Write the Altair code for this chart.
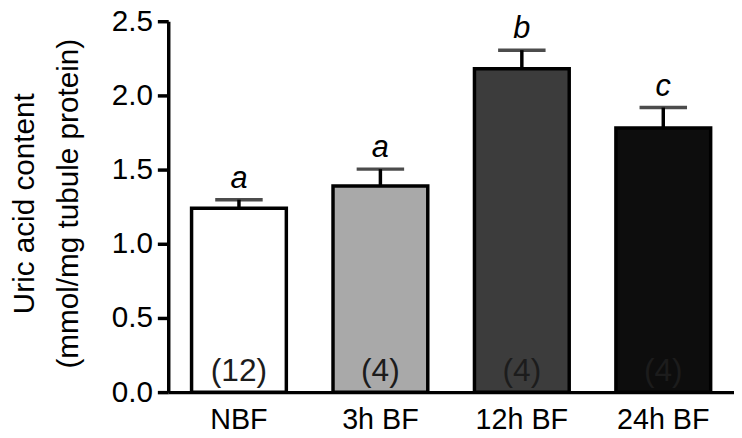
import altair as alt
import pandas as pd

groups = ["NBF", "3h BF", "12h BF", "24h BF"]
means = [1.24, 1.39, 2.18, 1.78]
sems = [0.057, 0.113, 0.125, 0.138]
letters = ["a", "a", "b", "c"]
counts = ["(12)", "(4)", "(4)", "(4)"]
fills = ["#ffffff", "#a9a9a9", "#3c3c3c", "#0d0d0d"]
y_ticks = [0.0, 0.5, 1.0, 1.5, 2.0, 2.5]

FONT = "Liberation Sans"

df = pd.DataFrame({
    "group": groups,
    "mean": means,
    "sem": sems,
    "top": [m + s for m, s in zip(means, sems)],
    "letter": letters,
    "n": counts,
})

x = alt.X("group:N", sort=groups,
          scale=alt.Scale(paddingInner=0.33, paddingOuter=0.165),
          axis=alt.Axis(title=None, labelAngle=0, ticks=False, labelPadding=14,
                        labelFontSize=29, labelFont=FONT, labelColor="black",
                        domainColor="black", domainWidth=3.5))
y_scale = alt.Scale(domain=[0, 2.5], nice=False)

base = alt.Chart(df)

bars = base.mark_bar(stroke="black", strokeWidth=3.5, strokeJoin="miter").encode(
    x=x,
    y=alt.Y("mean:Q", scale=y_scale,
            axis=alt.Axis(values=y_ticks, format=".1f", grid=False,
                          title=["Uric acid content", "(mmol/mg tubule protein)"],
                          titleFont=FONT, titleFontSize=30, titleFontWeight="normal",
                          titleColor="black", titleLineHeight=44,
                          titleX=-130, titleY=184,
                          labelFontSize=30, labelFont=FONT, labelColor="black",
                          labelPadding=5, tickSize=11, tickWidth=3.5, tickColor="black",
                          domainColor="black", domainWidth=3.5)),
    fill=alt.Fill("group:N", sort=groups,
                  scale=alt.Scale(domain=groups, range=fills), legend=None),
)

whisker = base.mark_rule(color="black", strokeWidth=3.5).encode(
    x=alt.X("group:N", sort=groups),
    y=alt.Y("mean:Q"),
    y2="top:Q",
)

cap = base.mark_tick(color="black", thickness=3.5, size=48, orient="horizontal").encode(
    x=alt.X("group:N", sort=groups),
    y=alt.Y("top:Q"),
)

letter_txt = base.mark_text(font=FONT, fontSize=31, fontStyle="italic",
                            baseline="alphabetic", dy=-12, color="black").encode(
    x=alt.X("group:N", sort=groups),
    y=alt.Y("top:Q"),
    text="letter:N",
)

n_txt = base.mark_text(font=FONT, fontSize=32, baseline="alphabetic",
                       dy=-11, color="#1c1c1c").encode(
    x=alt.X("group:N", sort=groups),
    y=alt.datum(0),
    text="n:N",
)

chart = alt.layer(bars, whisker, cap, letter_txt, n_txt).properties(
    width=572, height=375,
    autosize=alt.AutoSizeParams(type="none"),
    padding={"left": 162, "top": 11, "right": 0, "bottom": 44},
    background="white",
).configure_view(stroke=None)

chart.save("out.html", embed_options={"renderer": "svg", "actions": False})
